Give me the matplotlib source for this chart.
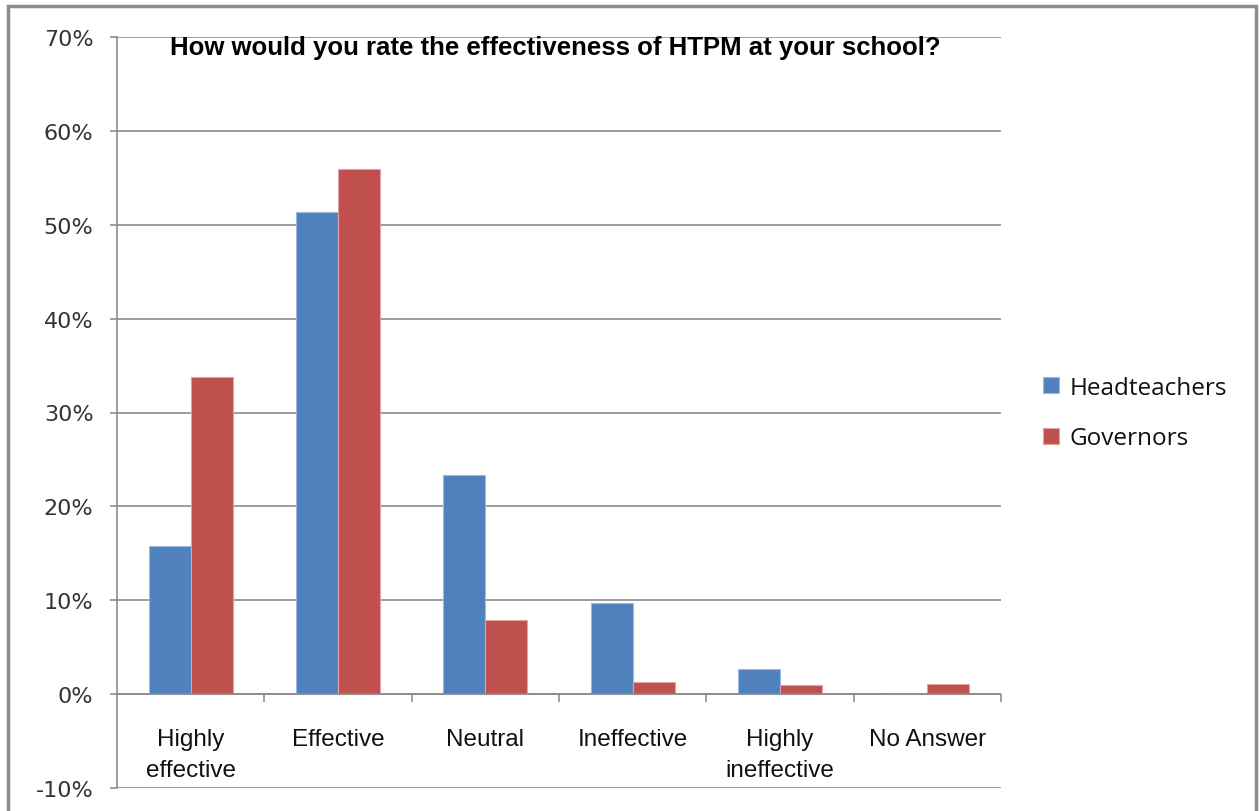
import matplotlib
matplotlib.use("Agg")
import matplotlib.pyplot as plt
from matplotlib.ticker import FixedLocator, PercentFormatter
from matplotlib.transforms import blended_transform_factory, offset_copy
import matplotlib.font_manager as fm
import numpy as np

categories = ["Highly\neffective", "Effective", "Neutral", "Ineffective", "Highly\nineffective", "No Answer"]
headteachers = [15.8, 51.4, 23.3, 9.7, 2.7, 0.0]
governors = [33.8, 55.9, 7.9, 1.3, 1.0, 1.1]
series_names = ["Headteachers", "Governors"]
yticks = [-10, 0, 10, 20, 30, 40, 50, 60, 70]
title = "How would you rate the effectiveness of HTPM at your school?"

plt.rcParams["axes.unicode_minus"] = False
names = {f.name for f in fm.fontManager.ttflist}
narrow = "Liberation Sans Narrow" if "Liberation Sans Narrow" in names else "Liberation Sans"

W, H = 1260, 812
fig = plt.figure(figsize=(W / 100, H / 100), dpi=100)
ax = fig.add_axes([117 / W, 1 - 789 / H, (1001 - 117) / W, (789 - 38) / H])

x = np.arange(len(categories))
bw = 0.285
blue = "#4F81BD"
red = "#C0504D"
ax.bar(x - bw / 2, headteachers, bw, color=blue, edgecolor="#9DB9DD", linewidth=0.8, label=series_names[0], zorder=3)
ax.bar(x + bw / 2, governors, bw, color=red, edgecolor="#E3A3A1", linewidth=0.8, label=series_names[1], zorder=3)

ax.set_xlim(-0.5, len(categories) - 0.5)
ax.set_ylim(-10, 70)
ax.yaxis.set_major_locator(FixedLocator(yticks))
ax.yaxis.set_major_formatter(PercentFormatter(decimals=0))
ax.grid(axis="y", color="#8C8C8C", linewidth=1.2, zorder=0)
ax.axhline(0, color="#8C8C8C", linewidth=1.2, zorder=4)
for s in ["top", "right", "bottom"]:
    ax.spines[s].set_visible(False)
ax.spines["left"].set_color("#8C8C8C")
ax.spines["left"].set_linewidth(1.2)

ax.tick_params(axis="y", length=5, width=1.2, color="#8C8C8C", pad=12, labelsize=16, labelcolor="#333333")
for lbl in ax.get_yticklabels():
    lbl.set_family("DejaVu Sans")

ax.set_xticks(x)
ax.set_xticklabels([""] * len(categories))
ax.tick_params(axis="x", length=0, pad=0)

trans = blended_transform_factory(ax.transData, ax.transData)
for xi, c in zip(x, categories):
    ax.text(xi, 0, c, transform=offset_copy(trans, fig=fig, x=0, y=-34 * 0.72, units="points"),
            ha="center", va="top", fontsize=17.5, family=narrow, linespacing=1.55, color="#111111")

bounds = np.arange(0.5, len(categories), 1.0)
ax.vlines(bounds, -0.85, 0, color="#8C8C8C", linewidth=1.2, clip_on=False, zorder=4)

fig.text(555 / W, 1 - 48 / H, title, ha="center", va="center", fontsize=18.5, fontweight="bold", family=narrow, color="#000000")

leg = ax.legend(loc="center left", bbox_to_anchor=(1021 / W, 1 - 414 / H), bbox_transform=fig.transFigure,
                frameon=False, fontsize=17.5, handlelength=0.65, handleheight=0.65, handletextpad=0.45, labelspacing=1.1)
for t in leg.get_texts():
    t.set_family("Open Sans")
    t.set_color("#111111")

fig.patches.append(plt.Rectangle((8 / W, -0.05), (1256 - 8) / W, 1 - 7 / H + 0.05, transform=fig.transFigure,
                                 fill=False, edgecolor="#8C8C8C", linewidth=2.5))

fig.savefig("out.png", dpi=100)
